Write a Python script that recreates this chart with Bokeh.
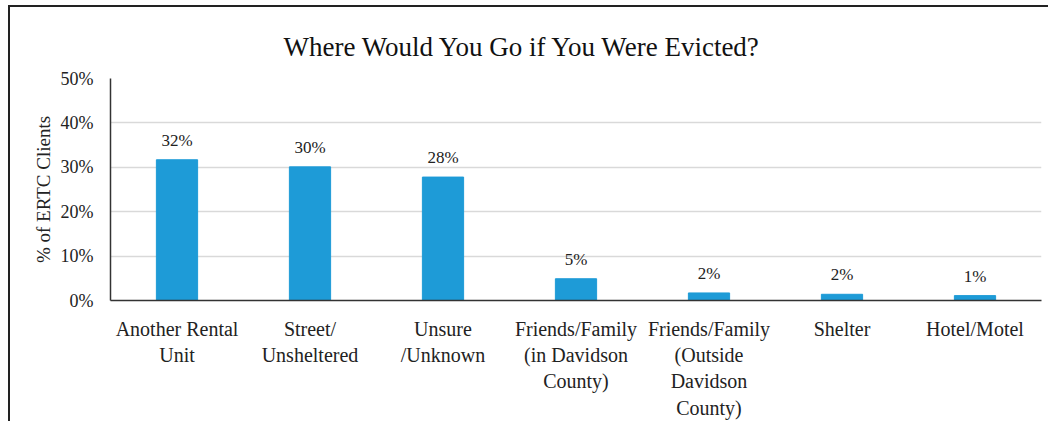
from bokeh.plotting import figure
from bokeh.models import ColumnDataSource, Range1d, FactorRange, NumeralTickFormatter, Title
from bokeh.embed import file_html
from bokeh.resources import INLINE

categories = ["Another Rental Unit", "Street/Unsheltered", "Unsure/Unknown",
              "Friends/Family (in Davidson County)", "Friends/Family (Outside Davidson County)",
              "Shelter", "Hotel/Motel"]
tick_labels = ["Another Rental\nUnit", "Street/\nUnsheltered", "Unsure\n/Unknown",
               "Friends/Family\n(in Davidson\nCounty)", "Friends/Family\n(Outside\nDavidson\nCounty)",
               "Shelter", "Hotel/Motel"]
values = [0.317, 0.301, 0.278, 0.049, 0.017, 0.014, 0.011]
value_labels = ["32%", "30%", "28%", "5%", "2%", "2%", "1%"]
title_text = "Where Would You Go if You Were Evicted?"

FONT = "Liberation Serif"
BAR = "#1E9BD7"

src = ColumnDataSource(dict(cat=tick_labels, name=categories, val=values, lab=value_labels))

p = figure(frame_width=931, frame_height=222, x_range=FactorRange(*tick_labels, range_padding=0),
           y_range=Range1d(0, 0.5), output_backend="svg", toolbar_location=None,
           min_border_left=100, min_border_right=7, min_border_top=71, min_border_bottom=10)
p.styles = {
    "padding-left": "10px",
    "padding-top": "7px",
    "background-color": "white",
    "background-image": "linear-gradient(#222,#222), linear-gradient(#222,#222)",
    "background-position": "8px 5px, 8px 5px",
    "background-size": "2px 100%, 100% 2px",
    "background-repeat": "no-repeat",
}

p.add_layout(Title(text=title_text, align="left", vertical_align="top",
                   text_font=FONT, text_font_size="27px", text_font_style="normal",
                   text_color="#111", offset=173, standoff=30), "above")

p.vbar(x="cat", top="val", width=0.31, color=BAR, source=src)
p.text(x="cat", y="val", text="lab", source=src, text_align="center", text_baseline="bottom",
       y_offset=-10, text_font_size="17px", text_color="#222", text_font={"value": FONT})

p.outline_line_color = None
p.xgrid.grid_line_color = None
p.ygrid.grid_line_color = "#d9d9d9"
p.ygrid.grid_line_width = 1.5

p.yaxis.ticker = [0, 0.1, 0.2, 0.3, 0.4, 0.5]
p.yaxis.formatter = NumeralTickFormatter(format="0%")
p.yaxis.axis_label = "% of ERTC Clients"
p.yaxis.axis_label_text_font = FONT
p.yaxis.axis_label_text_font_style = "normal"
p.yaxis.axis_label_text_font_size = "19px"
p.yaxis.axis_label_text_color = "#222"
p.yaxis.axis_label_standoff = 4
p.yaxis.major_label_text_font = FONT
p.yaxis.major_label_text_font_size = "18px"
p.yaxis.major_label_text_color = "#222"
p.yaxis.major_tick_line_color = None
p.yaxis.minor_tick_line_color = None
p.yaxis.major_label_standoff = 11
p.yaxis.axis_line_color = "#333"
p.yaxis.axis_line_width = 1.5

p.xaxis.major_label_text_font = FONT
p.xaxis.major_label_text_font_size = "20px"
p.xaxis.major_label_text_color = "#222"
p.xaxis.major_label_text_line_height = 1.2
p.xaxis.major_label_standoff = 11
p.xaxis.major_tick_line_color = None
p.xaxis.axis_line_color = "#333"
p.xaxis.axis_line_width = 1.5

open("out.html", "w").write(file_html(p, INLINE))
